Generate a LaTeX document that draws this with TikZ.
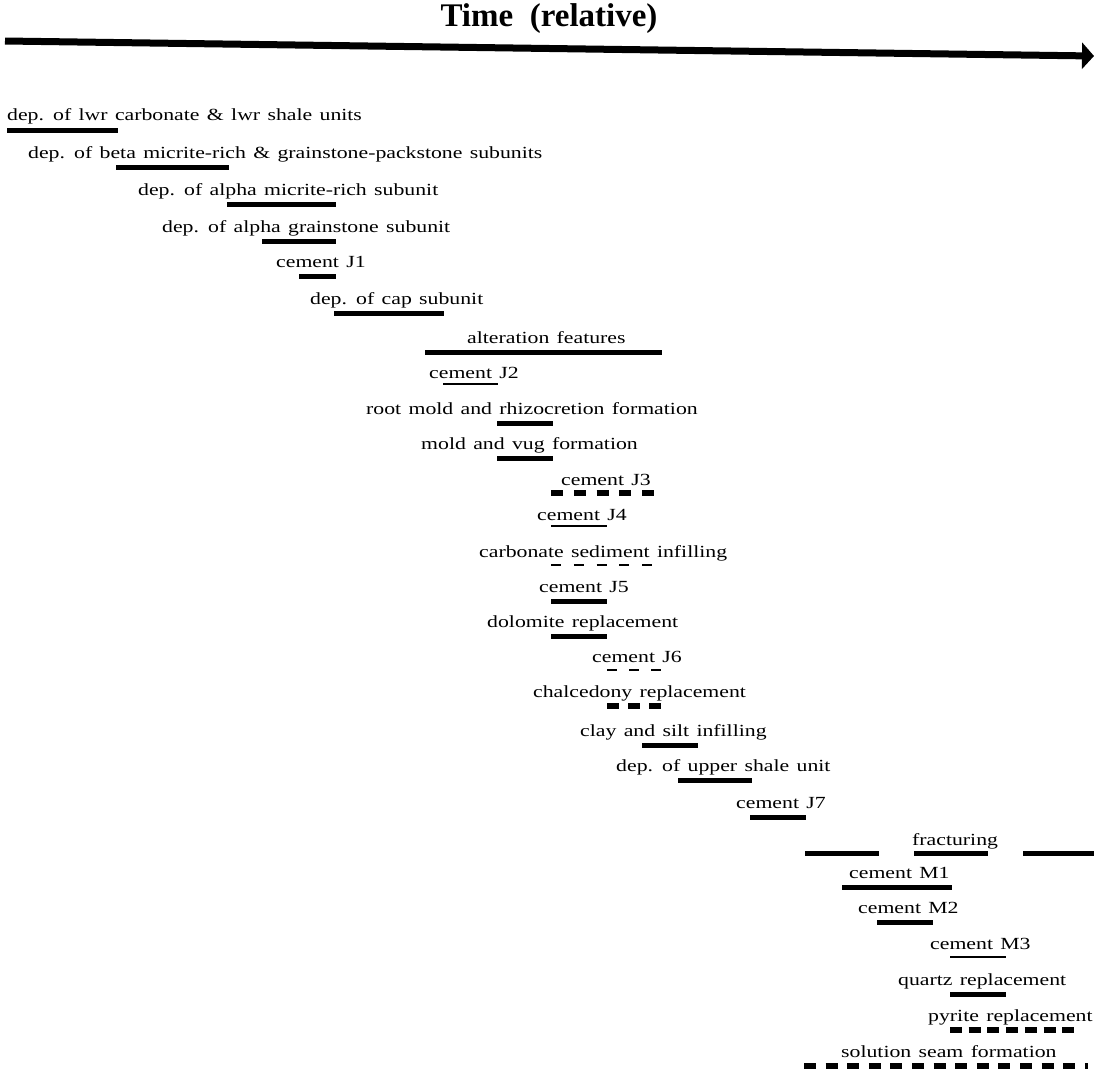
\documentclass[tikz,border=0pt]{standalone}
\usepackage{fontspec}
\setmainfont{Liberation Serif}[FakeStretch=1.28,WordSpace=1.35]
\newfontfamily\titlefont{Liberation Serif}[FakeStretch=1.0]
\usetikzlibrary{arrows.meta}
\newcommand\evrow[8]{\node[lbl] (#1) at (#2,#3) {#4}; \draw[#5] (#6,#8) -- (#7,#8);}
\begin{document}
\begin{tikzpicture}[x=1pt,y=-1pt,
  lbl/.style={anchor=base west, inner sep=0pt, font=\fontsize{17}{20}\selectfont},
  thickbar/.style={line width=5pt},
  thinbar/.style={line width=2pt},
  dthick/.style={line width=5.5pt, dash pattern=on 12pt off #1pt},
  dthin/.style={line width=2.5pt, dash pattern=on 10pt off #1pt}]
\useasboundingbox (0,0) rectangle (1094,1074);
\node[font=\titlefont\bfseries\fontsize{33}{34}\selectfont, inner sep=0pt] (title) at (549,19) {Time\ \ (relative)};
\coordinate (t0) at (5,41);
\coordinate (t1) at (1094,56);
\draw[line width=7pt, -{Triangle[length=12pt,width=26pt]}] (t0) -- (t1);
\evrow{r1}{7}{120}{dep. of lwr carbonate \& lwr shale units}{thickbar}{7}{118}{130}
\evrow{r2}{28}{158}{dep. of beta micrite-rich \& grainstone-packstone subunits}{thickbar}{116}{229}{167}
\evrow{r3}{138}{195}{dep. of alpha micrite-rich subunit}{thickbar}{227}{336}{204}
\evrow{r4}{162}{232}{dep. of alpha grainstone subunit}{thickbar}{262}{336}{241}
\evrow{r5}{276}{267}{cement J1}{thickbar}{299}{336}{276}
\evrow{r6}{310}{304}{dep. of cap subunit}{thickbar}{334}{444}{313}
\evrow{r7}{467}{343}{alteration features}{thickbar}{425}{662}{352}
\evrow{r8}{429}{378}{cement J2}{thinbar}{443}{498}{384}
\evrow{r9}{366}{414}{root mold and rhizocretion formation}{thickbar}{497}{553}{423}
\evrow{r10}{421}{449}{mold and vug formation}{thickbar}{497}{553}{458}
\evrow{r11}{561}{485}{cement J3}{dthick=10.75}{551}{654}{493}
\evrow{r12}{537}{520}{cement J4}{thinbar}{551}{607}{526}
\evrow{r13}{479}{557}{carbonate sediment infilling}{dthin=12.75}{551}{652}{565}
\evrow{r14}{539}{592}{cement J5}{thickbar}{551}{607}{601}
\evrow{r15}{487}{627}{dolomite replacement}{thickbar}{551}{607}{636}
\evrow{r16}{592}{662}{cement J6}{dthin=12}{607}{661}{670}
\evrow{r17}{533}{697}{chalcedony replacement}{dthick=9}{607}{661}{706}
\evrow{r18}{580}{736}{clay and silt infilling}{thickbar}{642}{698}{745}
\evrow{r19}{616}{771}{dep. of upper shale unit}{thickbar}{678}{752}{780}
\evrow{r20}{736}{808}{cement J7}{thickbar}{750}{806}{817}
\node[lbl] (r21) at (912,845) {fracturing};
\draw[thickbar] (805,853) -- (879,853);
\draw[thickbar] (914,853) -- (988,853);
\draw[thickbar] (1023,853) -- (1094,853);
\evrow{r22}{849}{878}{cement M1}{thickbar}{842}{952}{887}
\evrow{r23}{858}{913}{cement M2}{thickbar}{877}{933}{922}
\evrow{r24}{930}{949}{cement M3}{thinbar}{950}{1006}{957}
\evrow{r25}{898}{985}{quartz replacement}{thickbar}{950}{1006}{994}
\evrow{r26}{928}{1021}{pyrite replacement}{dthick=6.7}{950}{1074}{1030}
\evrow{r27}{841}{1057}{solution seam formation}{dthick=9.6}{804}{1088}{1066}
\end{tikzpicture}
\end{document}
